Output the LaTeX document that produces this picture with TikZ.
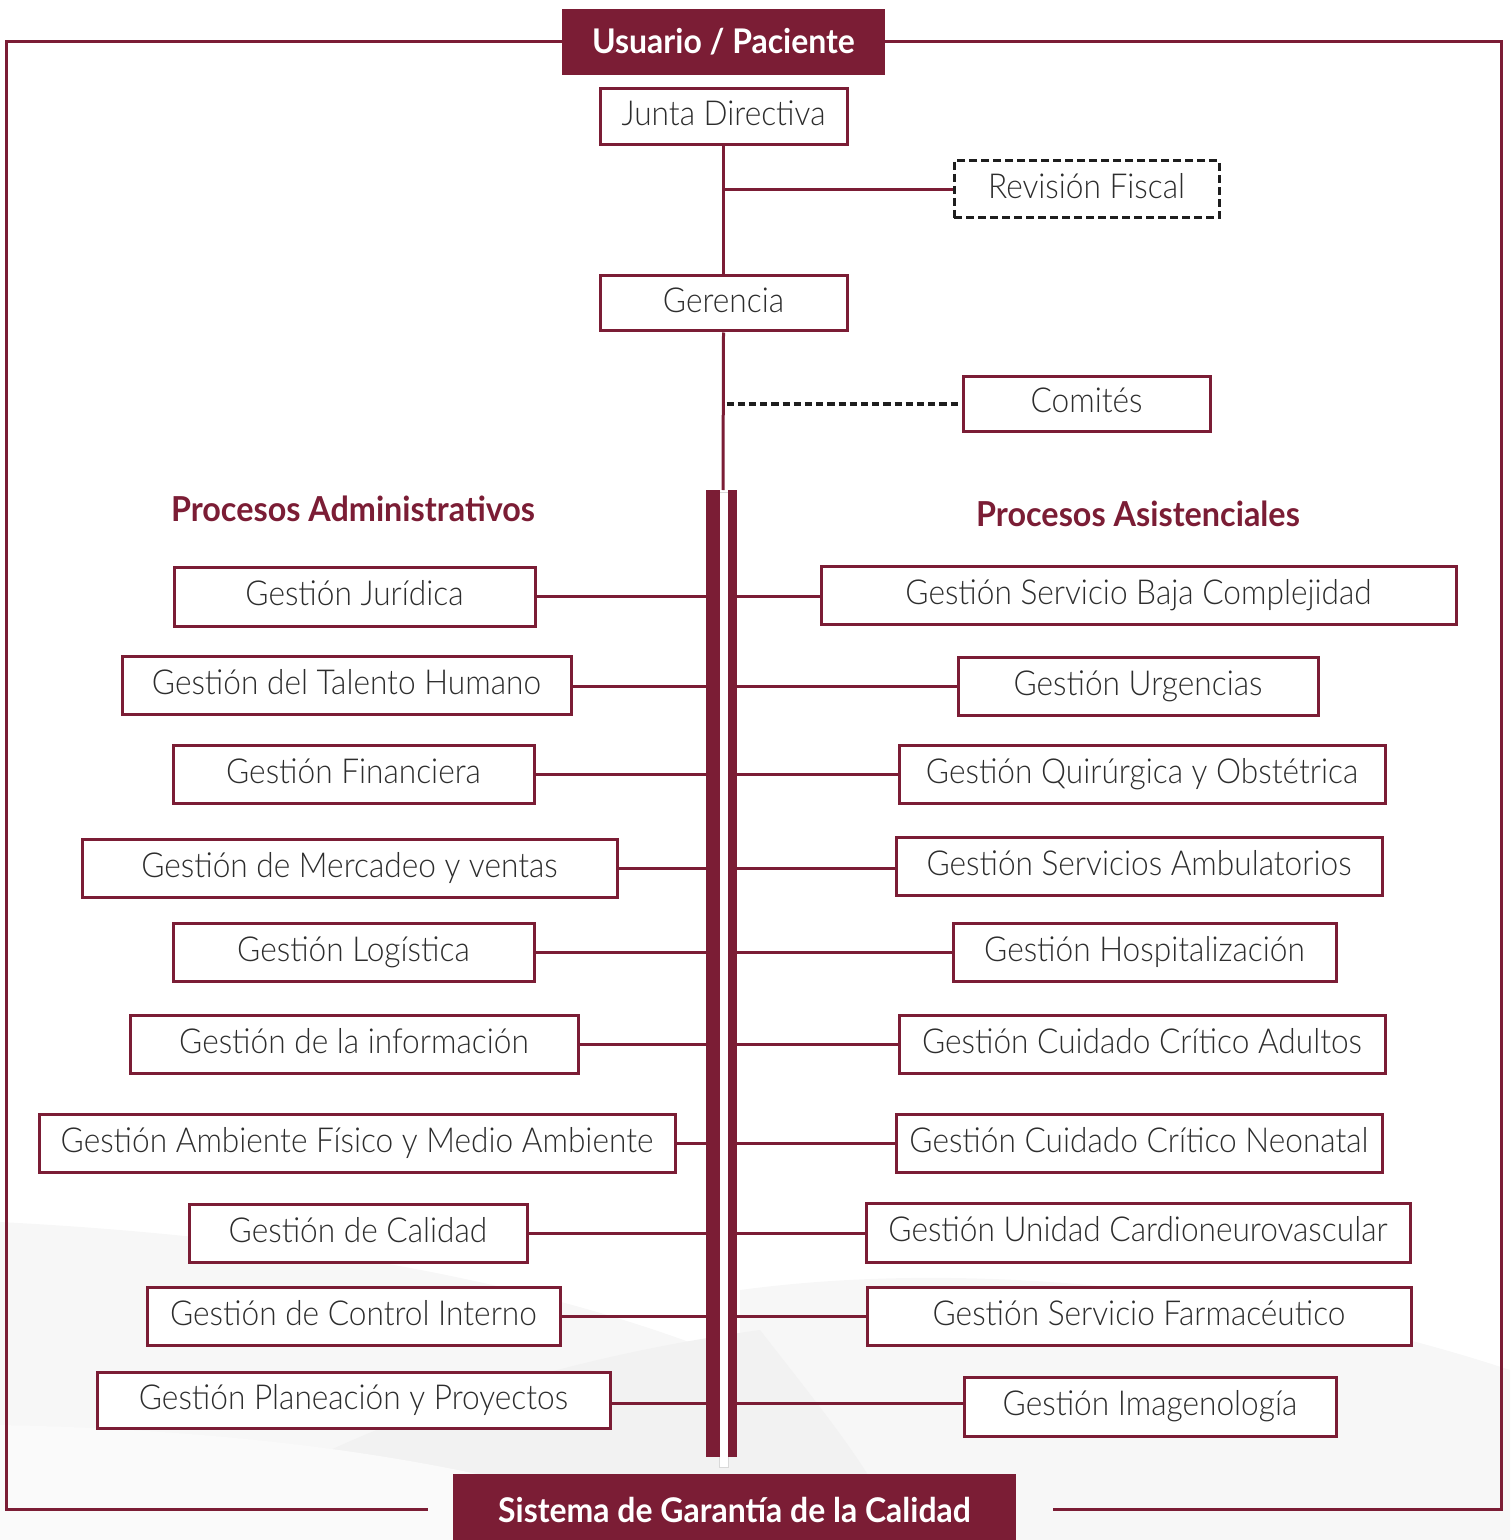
\documentclass[tikz,border=0pt]{standalone}
\usepackage{fontspec}
\setmainfont{Lato}
\newfontfamily\lightfont{Lato Light}[FakeStretch=0.92]
\newfontfamily\headfont{Lato}[FakeStretch=0.94]
\definecolor{maroon}{RGB}{123,29,53}
\definecolor{txtgray}{RGB}{45,45,45}
\definecolor{dashblack}{RGB}{30,30,30}

\tikzset{
  unitbox/.style={draw=maroon, line width=1.5pt, fill=white, inner sep=0pt,
    font=\lightfont\fontsize{17.2}{20}\selectfont, text=txtgray,
    text height=12pt, text depth=3pt},
  fiscalbox/.style={unitbox, draw=dashblack, dash pattern=on 4pt off 2pt},
  conn/.style={draw=maroon, line width=1.5pt},
  dotconn/.style={draw=dashblack, line width=2pt, dash pattern=on 3.6pt off 2pt},
  frameline/.style={draw=maroon, line width=1.5pt},
  titlebox/.style={fill=maroon, text=white, inner sep=0pt,
    font=\headfont\bfseries\fontsize{17}{20}\selectfont},
  sectionhead/.style={text=maroon, inner sep=0pt,
    font=\headfont\bfseries\fontsize{17.2}{20}\selectfont},
  barpart/.style={fill=maroon, inner sep=0pt, draw=none},
}

% box given by its corners (x1,y1) (x2,y2) in pixel units
\newcommand\orgbox[7][unitbox]{%
  \node[#1, minimum width={(#5-#3)*0.5pt}, minimum height={(#6-#4)*0.5pt}]
    (#2) at ({(#3+#5)/2},{(#4+#6)/2}) {#7};}

\begin{document}
\begin{tikzpicture}[x=0.5pt,y=-0.5pt]
\useasboundingbox (0,0) rectangle (1510,1540);

% soft background swooshes
\fill[black!3] (0,1222) .. controls (350,1240) and (650,1300) .. (860,1420)
  .. controls (950,1470) and (1020,1510) .. (1080,1540) -- (0,1540) -- cycle;
\fill[black!3] (740,1290) .. controls (1000,1255) and (1300,1300) .. (1510,1370)
  -- (1510,1540) -- (740,1540) -- cycle;
\fill[black!5] (170,1540) .. controls (330,1430) and (540,1360) .. (760,1330)
  .. controls (830,1420) and (880,1480) .. (900,1540) -- cycle;
\fill[black!2] (0,1425) .. controls (250,1430) and (500,1460) .. (700,1540)
  -- (0,1540) -- cycle;

% outer frame and the two title bars
\node[titlebox, minimum width={323*0.5pt}, minimum height={66*0.5pt}]
  (user) at (723.5,42) {Usuario / Paciente};
\node[titlebox, minimum width={563*0.5pt}, minimum height={72*0.5pt}]
  (sgc) at (734.5,1510) {Sistema de Garantía de la Calidad};
\coordinate (tl) at (6,42);
\coordinate (tr) at (1501,42);
\coordinate (bl) at (6,1509);
\coordinate (br) at (1501,1509);
\coordinate (gapL) at (428,1509);
\coordinate (gapR) at (1053,1509);
\draw[frameline] (user.west) -- (tl) -- (bl) -- (gapL);
\draw[frameline] (user.east) -- (tr) -- (br) -- (gapR);

% top of the hierarchy
\orgbox{jd}{600}{89}{847}{145}{Junta Directiva}
\orgbox[fiscalbox]{rf}{954}{161}{1219}{218}{Revisión Fiscal}
\orgbox{ger}{600}{276}{847}{331}{Gerencia}
\orgbox{com}{963}{376}{1210}{431}{Comités}

% central double bar
\node[fill=white, draw=black!15, line width=0.4pt, inner sep=0pt,
  minimum width={9*0.5pt}, minimum height={975*0.5pt}] (gap) at (723.75,980) {};
\node[barpart, minimum width={13.5*0.5pt}, minimum height={967*0.5pt}]
  (barL) at (712.75,973.5) {};
\node[barpart, minimum width={9*0.5pt}, minimum height={967*0.5pt}]
  (barR) at (732.5,973.5) {};
\coordinate (bartop) at (723,490);

\draw[conn] (jd.south) -- (ger.north);
\draw[conn] (ger.south) -- (bartop);
\draw[conn] (rf.west -| jd.south) -- (rf.west);
\draw[dotconn] ([xshift=1.5pt]com.west -| ger.south) -- (com.west);

% section headings
\node[sectionhead] (adm) at (353,509) {Procesos Administrativos};
\node[sectionhead] (asi) at (1138,514) {Procesos Asistenciales};

% administrative processes
\orgbox{a1}{174}{567}{535}{626}{Gestión Jurídica}
\orgbox{a2}{122}{656}{571}{714}{Gestión del Talento Humano}
\orgbox{a3}{173}{745}{534}{803}{Gestión Financiera}
\orgbox{a4}{82}{839}{617}{897}{Gestión de Mercadeo y ventas}
\orgbox{a5}{173}{923}{534}{981}{Gestión Logística}
\orgbox{a6}{130}{1015}{578}{1073}{Gestión de la información}
\orgbox{a7}{39}{1114}{675}{1172}{Gestión Ambiente Físico y Medio Ambiente}
\orgbox{a8}{189}{1204}{527}{1262}{Gestión de Calidad}
\orgbox{a9}{147}{1287}{560}{1345}{Gestión de Control Interno}
\orgbox{a10}{97}{1372}{610}{1428}{Gestión Planeación y Proyectos}

% care processes
\orgbox{c1}{821}{566}{1456}{624}{Gestión Servicio Baja Complejidad}
\orgbox{c2}{958}{657}{1318}{715}{Gestión Urgencias}
\orgbox{c3}{899}{745}{1385}{803}{Gestión Quirúrgica y Obstétrica}
\orgbox{c4}{896}{837}{1382}{895}{Gestión Servicios Ambulatorios}
\orgbox{c5}{953}{923}{1336}{981}{Gestión Hospitalización}
\orgbox{c6}{899}{1015}{1385}{1073}{Gestión Cuidado Crítico Adultos}
\orgbox{c7}{896}{1114}{1382}{1172}{Gestión Cuidado Crítico Neonatal}
\orgbox{c8}{866}{1203}{1410}{1262}{Gestión Unidad Cardioneurovascular}
\orgbox{c9}{867}{1287}{1411}{1345}{Gestión Servicio Farmacéutico}
\orgbox{c10}{964}{1377}{1336}{1436}{Gestión Imagenología}

% links to the central bar
\foreach \n/\yy in {a1/596,a2/686,a3/774,a4/868,a5/952,a6/1044,a7/1143,a8/1233,a9/1316,a10/1403}{
  \draw[conn] (\n.east |- 0,\yy) -- (barL.west |- 0,\yy);
}
\foreach \n/\yy in {c1/596,c2/686,c3/774,c4/868,c5/952,c6/1044,c7/1143,c8/1233,c9/1316,c10/1403}{
  \draw[conn] (barR.east |- 0,\yy) -- (\n.west |- 0,\yy);
}
\end{tikzpicture}
\end{document}
